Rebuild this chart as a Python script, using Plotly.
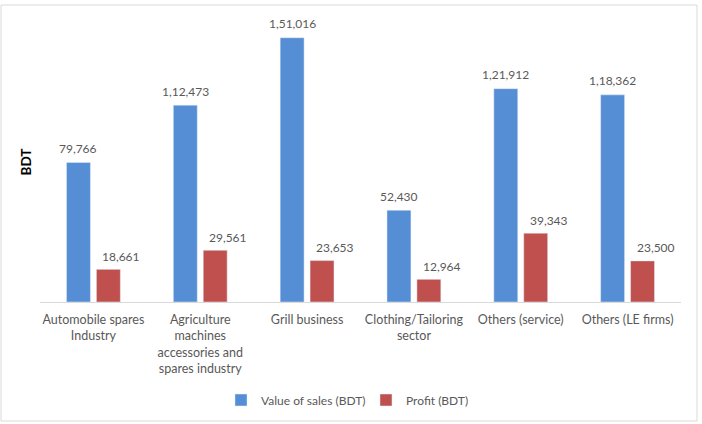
import plotly.graph_objects as go

categories = ["Automobile spares<br>Industry",
              "Agriculture<br>machines<br>accessories and<br>spares industry",
              "Grill business",
              "Clothing/Tailoring<br>sector",
              "Others (service)",
              "Others (LE firms)"]
sales = [79766, 112473, 151016, 52430, 121912, 118362]
profit = [18661, 29561, 23653, 12964, 39343, 23500]


def indian(n):
    s = str(int(n))
    if len(s) <= 3:
        return s
    head, tail = s[:-3], s[-3:]
    parts = []
    while len(head) > 2:
        parts.insert(0, head[-2:])
        head = head[:-2]
    if head:
        parts.insert(0, head)
    return ",".join(parts) + "," + tail


FONT = "Lato, Calibri, Carlito, sans-serif"
GREY = "#595959"

fig = go.Figure()
fig.add_trace(go.Bar(x=categories, y=sales, name="Value of sales (BDT)",
                     marker_color="#558ED5"))
fig.add_trace(go.Bar(x=categories, y=profit, name="Profit (BDT)",
                     marker_color="#C0504D"))

annotations = []
for c, v in zip(categories, sales):
    annotations.append(dict(x=c, y=v, xref="x", yref="y", text=indian(v),
                            showarrow=False, xshift=-15, yshift=14,
                            yanchor="middle", xanchor="center",
                            font=dict(size=12, color=GREY, family=FONT)))
for c, v in zip(categories, profit):
    annotations.append(dict(x=c, y=v, xref="x", yref="y", text=indian(v),
                            showarrow=False, xshift=28, yshift=13,
                            yanchor="middle", xanchor="center",
                            font=dict(size=12, color=GREY, family=FONT)))

PL, PR, PT, PB = 40, 681, 22, 302
W = PR - PL
H = PB - PT

fig.update_layout(
    width=702, height=424,
    margin=dict(l=PL, r=702 - PR, t=PT, b=424 - PB, autoexpand=False),
    paper_bgcolor="white", plot_bgcolor="white",
    barmode="group", bargap=0.44, bargroupgap=0.2,
    font=dict(family=FONT, color=GREY, size=12.5),
    showlegend=True,
    legend=dict(orientation="h", x=(351 - PL) / W + 0.0234, xanchor="center",
                y=(PB - 400) / H, yanchor="middle",
                font=dict(size=12, color=GREY), itemwidth=30,
                entrywidth=100, entrywidthmode="pixels"),
    xaxis=dict(showline=True, linecolor="#D9D9D9", linewidth=1,
               ticks="", ticklabelstandoff=6, automargin=False,
               tickfont=dict(size=12.5, color=GREY), fixedrange=True),
    yaxis=dict(range=[0, 160000], showticklabels=False, showgrid=False,
               zeroline=False, showline=False, automargin=False,
               title=dict(text="<b>BDT</b>", font=dict(size=13.5, color="#000000"),
                          standoff=4)),
    annotations=annotations,
    shapes=[dict(type="rect", xref="paper", yref="paper",
                 x0=(1 - PL) / W, x1=(697 - PL) / W,
                 y0=(PB - 421) / H, y1=(PB - 5) / H,
                 line=dict(color="#D9D9D9", width=1), layer="below")],
)

fig.write_html("out.html")
